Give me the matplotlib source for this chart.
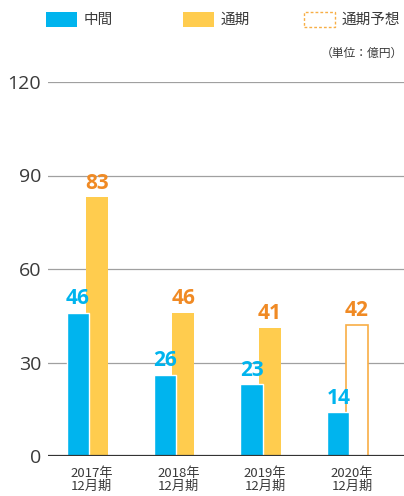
import numpy as np
import matplotlib.pyplot as plt
from matplotlib.patches import Rectangle

plt.rcParams['font.family'] = ['Noto Sans CJK JP', 'DejaVu Sans']
num_font = ['Open Sans', 'DejaVu Sans']

# 業績データ（単位：億円）
periods = ['2017年\n12月期', '2018年\n12月期', '2019年\n12月期', '2020年\n12月期']
interim = [46, 26, 23, 14]
full_year = [83, 46, 41, None]
forecast = [None, None, None, 42]
yticks = [0, 30, 60, 90, 120]

blue = '#00B4EE'
yellow = '#FFCC4E'
orange = '#F8AE45'
label_orange = '#F08A24'
text_grey = '#3A3A3A'

fig = plt.figure(figsize=(4.04, 4.96), dpi=100)
ax = fig.add_axes([48 / 404, 40 / 496, 356 / 404, 374 / 496])

x = np.arange(len(periods))
w = 0.255
off = 0.107

def value_label(xp, v, color):
    ax.text(xp, v + 1.2, str(v), ha='center', va='bottom', family=num_font,
            fontsize=15, fontweight='bold', color=color, zorder=4)

# 通期 (実績)
for i, v in enumerate(full_year):
    if v is None:
        continue
    ax.bar(x[i] + off, v, w, color=yellow, zorder=2)
    value_label(x[i] + off, v, label_orange)

# 通期予想 (枠のみ)
for i, v in enumerate(forecast):
    if v is None:
        continue
    ax.bar(x[i] + off, v, w, facecolor='white', edgecolor=orange,
           linewidth=1.2, zorder=2)
    value_label(x[i] + off, v, label_orange)

# 中間
ax.bar(x - off, interim, w, color=blue, edgecolor='white', linewidth=1, zorder=3)
for i, v in enumerate(interim):
    value_label(x[i] - off, v, blue)

ax.set_xlim(-0.453, 3.65)
ax.set_ylim(0, 120)
ax.set_yticks(yticks)
ax.set_yticklabels([str(t) for t in yticks], fontsize=14, color=text_grey,
                   family=num_font)
ax.tick_params(axis='y', length=0, pad=5)
ax.set_xticks(x + 0.05)
ax.set_xticklabels(periods, fontsize=9.5, color=text_grey, linespacing=0.95)
ax.tick_params(axis='x', length=0, pad=8)

for t in yticks[1:]:
    ax.axhline(t, color='#A0A0A0', linewidth=0.9, zorder=1)
ax.axhline(0, color='#333333', linewidth=1.6, zorder=5)
for s in ax.spines.values():
    s.set_visible(False)

# 凡例
def legend_item(x0, label, **kw):
    fig.patches.append(Rectangle((x0 / 404, 1 - 27 / 496), 31 / 404, 15 / 496,
                                 transform=fig.transFigure, **kw))
    fig.text((x0 + 38) / 404, 1 - 19.5 / 496, label, fontsize=10.5,
             color=text_grey, va='center', ha='left')

legend_item(46, '中間', facecolor=blue, edgecolor='none')
legend_item(183, '通期', facecolor=yellow, edgecolor='none')
legend_item(304, '通期予想', facecolor='white', edgecolor=orange,
            linestyle=(0, (2, 1.5)), linewidth=1)

fig.text(403 / 404, 1 - 53 / 496, '（単位：億円）', fontsize=8.5,
         color=text_grey, ha='right', va='center')

fig.savefig('out.png', dpi=100)
